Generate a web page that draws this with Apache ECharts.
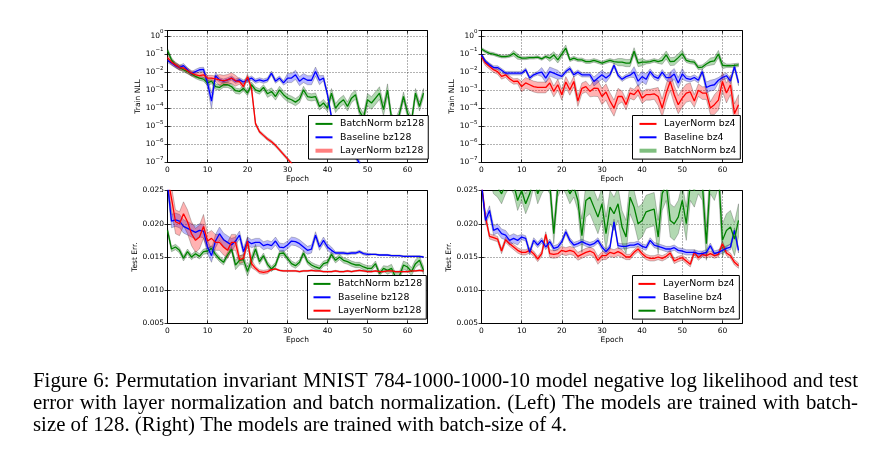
<!DOCTYPE html>
<html><head><meta charset="utf-8">
<script src="https://cdn.jsdelivr.net/npm/echarts@6/dist/echarts.min.js"></script>
<style>html,body{margin:0;padding:0;background:#fff}#c{width:891px;height:458px}</style>
</head><body><div id="c"></div>
<script>
// ---------- data ----------
const epochs = [0,1,2,3,4,5,6,7,8,9,10,11,12,13,14,15,16,17,18,19,20,21,22,23,24,25,26,27,28,29,30,31,32,33,34,35,36,37,38,39,40,41,42,43,44,45,46,47,48,49,50,51,52,53,54,55,56,57,58,59,60,61,62,63,64];
const xTicks = [0,10,20,30,40,50,60];

// Train NLL, batch size 128 (log10 of NLL)
const trainBN128 = [-0.80,-1.32,-1.60,-1.75,-1.87,-1.97,-2.10,-2.24,-2.33,-2.39,-2.60,-2.50,-2.80,-2.85,-2.70,-2.70,-2.80,-3.03,-3.07,-2.90,-3.16,-2.70,-2.98,-3.07,-2.85,-3.20,-3.07,-3.35,-2.98,-3.25,-3.44,-3.53,-3.66,-3.50,-2.98,-3.35,-3.40,-3.35,-3.90,-3.71,-3.99,-3.16,-3.99,-3.71,-3.53,-3.90,-3.44,-3.25,-4.17,-4.54,-3.53,-3.71,-3.44,-3.16,-4.08,-3.00,-4.54,-4.82,-4.30,-3.35,-4.26,-4.72,-3.16,-3.90,-3.16];
const trainBN128Sd = [0.12,0.12,0.12,0.12,0.12,0.12,0.12,0.12,0.12,0.12,0.15,0.15,0.15,0.15,0.15,0.15,0.15,0.15,0.15,0.15,0.15,0.15,0.15,0.15,0.15,0.2,0.2,0.2,0.2,0.2,0.2,0.2,0.2,0.2,0.2,0.2,0.2,0.2,0.2,0.2,0.2,0.25,0.25,0.25,0.25,0.25,0.25,0.25,0.25,0.25,0.35,0.35,0.35,0.35,0.35,0.35,0.25,0.25,0.25,0.25,0.25,0.25,0.25,0.25,0.25];
const trainBase128 = [-1.35,-1.50,-1.64,-1.75,-1.64,-1.87,-2.10,-1.97,-1.87,-1.85,-2.60,-3.60,-2.20,-2.43,-2.50,-2.43,-2.33,-2.50,-2.43,-2.55,-2.43,-2.33,-2.50,-2.43,-2.50,-2.43,-2.06,-2.50,-2.33,-2.60,-2.33,-2.33,-2.15,-2.50,-2.33,-2.45,-2.45,-1.97,-2.45,-2.33,-3.25,-4.50,-5.00,-5.40,-5.75,-6.05,-6.30,-6.65,-7.05,-7.40,null,null,null,null,null,null,null,null,null,null,null,null,null,null,null];
const trainBase128Sd = [0.12,0.12,0.12,0.12,0.12,0.12,0.12,0.12,0.12,0.12,0.3,0.45,0.2,0.12,0.12,0.12,0.12,0.12,0.12,0.12,0.12,0.12,0.12,0.12,0.12,0.12,0.12,0.12,0.12,0.12,0.25,0.25,0.25,0.25,0.25,0.25,0.25,0.25,0.25,0.15,0.15,0.15,0.15,0.15,0.15,0.15,0.15,0.15,0.15,0.15,0.15,0.15,0.15,0.15,0.15,0.15,0.15,0.15,0.15,0.15,0.15,0.15,0.15,0.15,0.15];
const trainLN128 = [-1.20,-1.45,-1.60,-1.75,-1.78,-1.93,-2.06,-2.15,-2.19,-2.15,-2.33,-2.33,-2.37,-2.43,-2.48,-2.43,-2.33,-2.48,-2.52,-2.80,-2.25,-2.90,-4.85,-5.30,-5.50,-5.70,-5.85,-6.05,-6.30,-6.55,-6.80,-7.05,-7.30,null,null,null,null,null,null,null,null,null,null,null,null,null,null,null,null,null,null,null,null,null,null,null,null,null,null,null,null,null,null,null,null];
const trainLN128Sd = [0.15,0.15,0.15,0.15,0.15,0.15,0.15,0.15,0.15,0.15,0.15,0.15,0.15,0.3,0.3,0.3,0.3,0.3,0.15,0.15,0.15,0.15,0.08,0.08,0.08,0.08,0.08,0.08,0.08,0.08,0.08,0.08,0.08,0.08,0.08,0.08,0.08,0.08,0.08,0.08,0.08,0.08,0.08,0.08,0.08,0.08,0.08,0.08,0.08,0.08,0.08,0.08,0.08,0.08,0.08,0.08,0.08,0.08,0.08,0.08,0.08,0.08,0.08,0.08,0.08];

// Train NLL, batch size 4 (log10 of NLL)
const trainLN4 = [-1.14,-1.50,-1.69,-1.87,-1.97,-2.24,-2.15,-2.37,-2.52,-2.50,-2.80,-2.60,-2.70,-2.80,-2.85,-2.85,-2.85,-2.60,-3.07,-2.70,-3.25,-2.55,-2.98,-2.52,-3.60,-2.90,-2.80,-3.07,-2.89,-2.90,-3.35,-3.10,-3.60,-3.99,-3.35,-3.35,-3.80,-3.16,-3.25,-2.98,-3.44,-3.25,-3.25,-3.20,-3.35,-3.99,-3.16,-2.52,-3.25,-3.80,-3.44,-3.16,-3.10,-3.60,-3.00,-3.16,-3.16,-3.99,-3.80,-3.55,-2.52,-3.16,-2.70,-4.30,-3.80];
const trainLN4Sd = [0.15,0.15,0.15,0.15,0.15,0.15,0.15,0.15,0.15,0.15,0.3,0.3,0.3,0.3,0.3,0.3,0.3,0.3,0.3,0.3,0.3,0.3,0.3,0.3,0.3,0.3,0.3,0.3,0.45,0.45,0.45,0.45,0.45,0.45,0.45,0.3,0.3,0.3,0.3,0.3,0.3,0.3,0.3,0.3,0.5,0.5,0.5,0.5,0.5,0.5,0.5,0.5,0.5,0.35,0.35,0.35,0.35,0.35,0.55,0.55,0.55,0.55,0.55,0.55,0.55];
const trainBase4 = [-1.05,-1.42,-1.60,-1.75,-1.75,-1.90,-2.06,-2.06,-2.06,-2.06,-2.06,-1.87,-2.33,-2.15,-2.06,-2.00,-2.33,-1.97,-2.06,-2.15,-2.24,-1.97,-1.80,-2.15,-2.00,-2.15,-2.15,-2.15,-2.52,-2.33,-2.15,-2.33,-2.15,-1.62,-2.17,-2.40,-2.25,-2.17,-2.00,-2.50,-2.25,-2.40,-1.97,-2.25,-2.35,-2.00,-2.30,-2.30,-2.10,-2.60,-2.10,-2.35,-2.40,-2.30,-2.45,-1.97,-2.85,-2.75,-2.70,-2.45,-2.30,-2.20,-2.50,-1.70,-2.60];
const trainBase4Sd = [0.1,0.1,0.1,0.1,0.1,0.1,0.1,0.1,0.1,0.1,0.1,0.1,0.1,0.1,0.1,0.25,0.25,0.25,0.25,0.25,0.12,0.12,0.12,0.12,0.12,0.12,0.12,0.12,0.25,0.25,0.25,0.25,0.12,0.12,0.12,0.12,0.12,0.12,0.3,0.3,0.3,0.3,0.15,0.15,0.15,0.15,0.15,0.3,0.3,0.3,0.3,0.15,0.15,0.15,0.15,0.15,0.3,0.3,0.3,0.15,0.15,0.15,0.15,0.15,0.15];
const trainBN4 = [-0.72,-0.86,-0.96,-1.00,-1.08,-1.14,-1.14,-1.10,-0.96,-1.14,-1.23,-1.23,-1.20,-1.20,-1.17,-1.27,-1.14,-1.23,-1.05,-1.32,-1.00,-0.68,-1.32,-1.23,-1.32,-1.32,-1.42,-1.42,-1.35,-1.42,-1.50,-1.42,-1.35,-1.42,-1.45,-1.45,-1.50,-1.50,-0.85,-1.50,-1.45,-1.45,-1.42,-1.35,-1.42,-1.35,-1.05,-1.42,-1.40,-1.20,-0.98,-1.35,-1.42,-1.45,-1.75,-1.72,-1.55,-1.42,-1.38,-1.00,-1.62,-1.65,-1.65,-1.63,-1.60];
const trainBN4Sd = [0.08,0.08,0.08,0.08,0.08,0.08,0.08,0.08,0.15,0.15,0.08,0.08,0.08,0.08,0.08,0.08,0.08,0.18,0.18,0.18,0.18,0.18,0.1,0.1,0.1,0.1,0.1,0.1,0.1,0.1,0.1,0.1,0.1,0.1,0.2,0.2,0.2,0.2,0.2,0.2,0.2,0.1,0.1,0.1,0.1,0.22,0.22,0.22,0.22,0.22,0.22,0.12,0.12,0.12,0.12,0.12,0.12,0.2,0.2,0.2,0.2,0.1,0.1,0.1,0.1];

// Test error, batch size 128
const testBN128 = [0.0190,0.0162,0.0165,0.0160,0.0148,0.0158,0.0150,0.0155,0.0151,0.0158,0.0159,0.0163,0.0154,0.0147,0.0142,0.0153,0.0162,0.0138,0.0145,0.0146,0.0128,0.0145,0.0162,0.0143,0.0152,0.0139,0.0132,0.0138,0.0155,0.0156,0.0148,0.0140,0.0137,0.0142,0.0156,0.0143,0.0138,0.0135,0.0133,0.0140,0.0142,0.0154,0.0145,0.0150,0.0145,0.0143,0.0140,0.0138,0.0138,0.0135,0.0133,0.0133,0.0140,0.0125,0.0133,0.0130,0.0133,0.0120,0.0122,0.0138,0.0135,0.0128,0.0140,0.0145,0.0130];
const testBN128Sd = [0.0004,0.0004,0.0004,0.0004,0.0004,0.0004,0.0004,0.0004,0.0004,0.0004,0.0004,0.0004,0.0004,0.0004,0.0004,0.0004,0.0004,0.0007,0.0007,0.0007,0.0007,0.0007,0.0007,0.0004,0.0004,0.0004,0.0004,0.0004,0.0004,0.0004,0.0004,0.0004,0.0004,0.0004,0.0004,0.0004,0.0004,0.0004,0.0004,0.0004,0.0004,0.0004,0.0004,0.0004,0.0004,0.0004,0.0004,0.0004,0.0004,0.0004,0.0004,0.0004,0.0004,0.0004,0.0004,0.0006,0.0006,0.0006,0.0006,0.0006,0.0006,0.0006,0.0006,0.0006,0.0006];
const testBase128 = [0.0260,0.0204,0.0206,0.0204,0.0196,0.0193,0.0190,0.0187,0.0190,0.0189,0.0165,0.0152,0.0174,0.0185,0.0176,0.0172,0.0168,0.0174,0.0183,0.0158,0.0174,0.0170,0.0172,0.0172,0.0167,0.0169,0.0167,0.0174,0.0165,0.0164,0.0168,0.0174,0.0173,0.0170,0.0165,0.0160,0.0162,0.0183,0.0165,0.0175,0.0165,0.0160,0.0156,0.0156,0.0156,0.0155,0.0156,0.0156,0.0158,0.0155,0.0154,0.0154,0.0154,0.0153,0.0153,0.0153,0.0152,0.0152,0.0152,0.0151,0.0151,0.0151,0.0151,0.0151,0.0150];
const testBase128Sd = [0.0010,0.0010,0.0010,0.0010,0.0010,0.0010,0.0010,0.0010,0.0010,0.0010,0.0010,0.0010,0.0010,0.0010,0.0010,0.0010,0.0010,0.0006,0.0006,0.0006,0.0006,0.0006,0.0006,0.0006,0.0006,0.0006,0.0006,0.0006,0.0006,0.0006,0.0006,0.0006,0.0006,0.0006,0.0006,0.0006,0.0006,0.0005,0.0005,0.0005,0.0005,0.0005,0.0002,0.0002,0.0002,0.0002,0.0002,0.0002,0.0002,0.0002,0.0002,0.0001,0.0001,0.0001,0.0001,0.0001,0.0001,0.0001,0.0001,0.0001,0.0001,0.0001,0.0001,0.0001,0.0001];
const testLN128 = [0.0270,0.0238,0.0203,0.0200,0.0215,0.0203,0.0185,0.0175,0.0180,0.0196,0.0174,0.0178,0.0172,0.0172,0.0165,0.0160,0.0172,0.0172,0.0146,0.0148,0.0174,0.0140,0.0133,0.0128,0.0127,0.0128,0.0131,0.0132,0.0130,0.0129,0.0129,0.0129,0.0129,0.0128,0.0129,0.0129,0.0130,0.0129,0.0129,0.0128,0.0128,0.0128,0.0129,0.0128,0.0128,0.0129,0.0128,0.0129,0.0130,0.0129,0.0128,0.0128,0.0129,0.0128,0.0128,0.0129,0.0129,0.0128,0.0128,0.0128,0.0128,0.0129,0.0129,0.0130,0.0129];
const testLN128Sd = [0.0018,0.0018,0.0018,0.0018,0.0018,0.0018,0.0018,0.0018,0.0018,0.0018,0.0012,0.0012,0.0012,0.0012,0.0012,0.0012,0.0012,0.0012,0.0006,0.0006,0.0006,0.0006,0.0003,0.0003,0.0003,0.0003,0.0001,0.0001,0.0001,0.0001,0.0001,0.0001,0.0001,0.0001,0.0001,0.0001,0.0001,0.0001,0.0001,0.0001,0.0001,0.0001,0.0001,0.0001,0.0001,0.0001,0.0001,0.0001,0.0001,0.0001,0.0001,0.0001,0.0001,0.0001,0.0001,0.0001,0.0001,0.0001,0.0001,0.0001,0.0001,0.0001,0.0001,0.0001,0.0001];

// Test error, batch size 4
const testLN4 = [0.0260,0.0210,0.0181,0.0179,0.0177,0.0159,0.0176,0.0170,0.0165,0.0160,0.0157,0.0157,0.0160,0.0155,0.0147,0.0155,0.0184,0.0155,0.0154,0.0155,0.0160,0.0158,0.0160,0.0158,0.0151,0.0154,0.0157,0.0159,0.0156,0.0145,0.0152,0.0152,0.0157,0.0155,0.0158,0.0155,0.0150,0.0150,0.0157,0.0162,0.0155,0.0150,0.0148,0.0148,0.0150,0.0148,0.0151,0.0156,0.0144,0.0147,0.0149,0.0144,0.0139,0.0157,0.0149,0.0154,0.0152,0.0155,0.0152,0.0154,0.0170,0.0156,0.0152,0.0142,0.0137];
const testLN4Sd = [0.0004,0.0004,0.0004,0.0004,0.0004,0.0004,0.0004,0.0004,0.0004,0.0004,0.0004,0.0004,0.0004,0.0004,0.0004,0.0004,0.0004,0.0006,0.0006,0.0006,0.0006,0.0006,0.0006,0.0006,0.0006,0.0006,0.0006,0.0006,0.0006,0.0006,0.0006,0.0006,0.0006,0.0006,0.0006,0.0006,0.0004,0.0004,0.0004,0.0004,0.0004,0.0004,0.0004,0.0004,0.0004,0.0004,0.0004,0.0004,0.0004,0.0004,0.0004,0.0004,0.0004,0.0004,0.0004,0.0004,0.0004,0.0004,0.0004,0.0004,0.0004,0.0004,0.0004,0.0004,0.0004];
const testBase4 = [0.0260,0.0205,0.0220,0.0190,0.0193,0.0185,0.0183,0.0175,0.0178,0.0175,0.0180,0.0178,0.0157,0.0175,0.0168,0.0175,0.0165,0.0173,0.0163,0.0165,0.0173,0.0188,0.0175,0.0168,0.0170,0.0173,0.0170,0.0168,0.0170,0.0175,0.0165,0.0158,0.0165,0.0203,0.0167,0.0166,0.0166,0.0168,0.0168,0.0170,0.0166,0.0164,0.0175,0.0168,0.0166,0.0164,0.0162,0.0162,0.0164,0.0160,0.0159,0.0157,0.0157,0.0157,0.0155,0.0155,0.0157,0.0167,0.0155,0.0157,0.0160,0.0163,0.0165,0.0190,0.0160];
const testBase4Sd = [0.0007,0.0007,0.0007,0.0007,0.0007,0.0007,0.0007,0.0007,0.0007,0.0007,0.0004,0.0004,0.0004,0.0004,0.0004,0.0004,0.0004,0.0004,0.0004,0.0004,0.0004,0.0004,0.0004,0.0004,0.0004,0.0004,0.0004,0.0004,0.0004,0.0004,0.0004,0.0004,0.0004,0.0004,0.0004,0.0004,0.0004,0.0004,0.0004,0.0004,0.0004,0.0004,0.0004,0.0004,0.0004,0.0004,0.0004,0.0004,0.0004,0.0004,0.0004,0.0004,0.0004,0.0004,0.0004,0.0004,0.0004,0.0004,0.0004,0.0004,0.0004,0.0004,0.0004,0.0004,0.0004];
const testBN4 = [0.0350,0.0300,0.0280,0.0260,0.0255,0.0245,0.0260,0.0270,0.0260,0.0235,0.0250,0.0230,0.0245,0.0270,0.0245,0.0260,0.0270,0.0260,0.0185,0.0255,0.0270,0.0260,0.0245,0.0255,0.0235,0.0182,0.0235,0.0240,0.0225,0.0210,0.0230,0.0185,0.0225,0.0215,0.0230,0.0195,0.0180,0.0240,0.0225,0.0200,0.0205,0.0218,0.0220,0.0222,0.0180,0.0245,0.0260,0.0205,0.0200,0.0210,0.0235,0.0200,0.0260,0.0250,0.0270,0.0260,0.0170,0.0270,0.0260,0.0280,0.0175,0.0190,0.0195,0.0177,0.0205];
const testBN4Sd = [0.0015,0.0015,0.0015,0.0015,0.0015,0.0015,0.0015,0.0015,0.0015,0.0015,0.0015,0.0015,0.0015,0.0015,0.0015,0.0015,0.0015,0.0015,0.0015,0.0015,0.0015,0.0015,0.0015,0.0015,0.0015,0.0025,0.0025,0.0025,0.0025,0.0025,0.0025,0.0025,0.0025,0.0025,0.0025,0.0025,0.0025,0.0025,0.0025,0.0025,0.0025,0.0025,0.0025,0.0025,0.0025,0.0025,0.0025,0.0025,0.0025,0.0025,0.0025,0.0025,0.0025,0.0025,0.0025,0.0025,0.0025,0.0025,0.0025,0.0025,0.0025,0.0025,0.0025,0.0025,0.0025];

const logTicks = [1e-7,1e-6,1e-5,1e-4,1e-3,1e-2,1e-1,1];
const errTicks = [0.005,0.010,0.015,0.020,0.025];

const captionLines = [
  "Figure 6: Permutation invariant MNIST 784-1000-1000-10 model negative log likelihood and test",
  "error with layer normalization and batch normalization. (Left) The models are trained with batch-",
  "size of 128. (Right) The models are trained with batch-size of 4."
];

// ---------- styling ----------
const G = '#008000', B = '#0000ff', R = '#ff0000';
const FILL = {[G]:'rgba(0,128,0,0.3)', [B]:'rgba(0,0,255,0.28)', [R]:'rgba(255,0,0,0.3)'};
const FF = 'DejaVu Sans';

const panels = [
  {log:true, yName:'Train NLL', yGap:21, grid:{left:167.5, top:30.5, width:260, height:132},
   items:[['BatchNorm bz128',G,trainBN128,trainBN128Sd],['Baseline bz128',B,trainBase128,trainBase128Sd],['LayerNorm bz128',R,trainLN128,trainLN128Sd]],
   legend:{left:308.5, top:115.5}, thick:'LayerNorm bz128'},
  {log:true, yName:'Train NLL', yGap:21.5, grid:{left:481.5, top:30.5, width:261, height:132},
   items:[['LayerNorm bz4',R,trainLN4,trainLN4Sd],['Baseline bz4',B,trainBase4,trainBase4Sd],['BatchNorm bz4',G,trainBN4,trainBN4Sd]],
   legend:{left:632.5, top:115.5}, thick:'BatchNorm bz4'},
  {log:false, yName:'Test Err.', yGap:26, grid:{left:167.5, top:190.5, width:260, height:133},
   items:[['BatchNorm bz128',G,testBN128,testBN128Sd],['Baseline bz128',B,testBase128,testBase128Sd],['LayerNorm bz128',R,testLN128,testLN128Sd]],
   legend:{left:307.5, top:275.5}, thick:null},
  {log:false, yName:'Test Err.', yGap:26.5, grid:{left:481.5, top:190.5, width:261, height:133},
   items:[['LayerNorm bz4',R,testLN4,testLN4Sd],['Baseline bz4',B,testBase4,testBase4Sd],['BatchNorm bz4',G,testBN4,testBN4Sd]],
   legend:{left:632.5, top:275.5}, thick:null}
];

const grids = [], xAxes = [], yAxes = [], series = [], legends = [];
const tickStyle = {show:true, inside:true, length:3, lineStyle:{color:'#000', width:0.8}};
const splitStyle = {show:true, lineStyle:{color:'#000', width:0.6, type:[1,2]}};
const axisFont = {fontFamily:FF, fontSize:7.5, color:'#000'};

function logLabel(v){
  const l = Math.log10(v), e = Math.round(l);
  if (Math.abs(l - e) > 1e-6) return '';
  return '{b|10}{s|' + (e < 0 ? '\u2212' : '') + Math.abs(e) + '}';
}

function bandSeries(gi, rows, fill){
  return {
    type:'custom', name:'band'+gi+'_'+series.length, xAxisIndex:gi, yAxisIndex:gi, clip:true, silent:true, z:2,
    animation:false, data:rows, encode:{x:0, y:[1,2]},
    renderItem:(params, api) => {
      if (params.dataIndex !== 0) return null;
      const up = [], dn = [];
      rows.forEach(r => { up.push(api.coord([r[0], r[2]])); dn.push(api.coord([r[0], r[1]])); });
      return {type:'polygon', shape:{points: up.concat(dn.reverse())},
        style:{fill:fill, stroke:'rgba(0,0,0,0.22)', lineWidth:1}};
    }
  };
}

panels.forEach((p, gi) => {
  grids.push(Object.assign({show:true, borderColor:'#000', borderWidth:1, backgroundColor:'transparent'}, p.grid));
  xAxes.push({type:'value', gridIndex:gi, min:0, max:65, interval:10, name:'Epoch', nameLocation:'middle', nameGap:12.5,
    nameTextStyle:axisFont, axisLine:{show:false}, axisTick:tickStyle, splitLine:splitStyle,
    axisLabel:Object.assign({margin:4, formatter:v => xTicks.includes(v) ? String(v) : ''}, axisFont)});
  const yBase = p.log
    ? {type:'log', logBase:10, min:logTicks[0], max:2, splitNumber:7}
    : {type:'value', min:errTicks[0], max:errTicks[errTicks.length-1], interval:0.005};
  yAxes.push(Object.assign({gridIndex:gi, name:p.yName, nameLocation:'middle', nameGap:p.yGap, nameTextStyle:axisFont,
    axisLine:{show:false}, axisTick:tickStyle, splitLine:splitStyle,
    axisLabel: p.log
      ? {margin:4, formatter:logLabel, rich:{b:{fontFamily:FF, fontSize:7.5, color:'#000', lineHeight:14, verticalAlign:'middle'},
                                                 s:{fontFamily:FF, fontSize:5.5, color:'#000', lineHeight:14, verticalAlign:'top'}}}
      : Object.assign({margin:3.5, formatter:v => v.toFixed(3)}, axisFont)}, yBase));

  p.items.forEach(([name, color, mean, sd], k) => {
    const pts = [], band = [];
    epochs.forEach((e, i) => {
      const m = mean[i];
      if (m === null) { pts.push([e, null]); return; }
      if (p.log) { pts.push([e, Math.pow(10, m)]); band.push([e, Math.pow(10, m - sd[i]), Math.pow(10, m + sd[i])]); }
      else { pts.push([e, m]); band.push([e, m - sd[i], m + sd[i]]); }
    });
    series.push(bandSeries(gi, band, FILL[color]));
    series.push({type:'line', name:name, xAxisIndex:gi, yAxisIndex:gi, data:pts, symbol:'none', showSymbol:false,
      lineStyle:{color:color, width:1.3}, itemStyle:{color:color}, z:3+k, clip:true, animation:false, connectNulls:false});
  });

  legends.push({
    orient:'vertical', left:p.legend.left, top:p.legend.top, selectedMode:false,
    data:p.items.map(([name, color]) => name === p.thick
      ? {name:name, lineStyle:{width:4, color:FILL[color].replace('0.3)', '0.5)')}, itemStyle:{opacity:0}}
      : {name:name, itemStyle:{opacity:0}}),
    itemStyle:{opacity:0, borderWidth:0},
    itemWidth:17, itemHeight:10, itemGap:3.4, padding:[3.4, 4, 3.4, 5],
    backgroundColor:'#fff', borderColor:'#000', borderWidth:1, borderRadius:0, z:10,
    textStyle:{fontFamily:FF, fontSize:9.4, color:'#000', lineHeight:10, padding:[0,0,0,2.5]}
  });
});

// secondary axes (top / right ticks, matplotlib style)
panels.forEach((p, gi) => {
  xAxes.push({type:'value', gridIndex:gi, position:'top', min:0, max:65, interval:10,
    axisLine:{show:false}, axisTick:tickStyle, axisLabel:{show:false}, splitLine:{show:false}});
  yAxes.push(Object.assign({gridIndex:gi, position:'right', axisLine:{show:false}, axisTick:tickStyle,
    axisLabel:{show:false}, splitLine:{show:false}},
    p.log ? {type:'log', logBase:10, min:logTicks[0], max:2, splitNumber:7}
          : {type:'value', min:errTicks[0], max:errTicks[errTicks.length-1], interval:0.005}));
});

// caption (justified like the LaTeX source)
const CAP_FONT = 20.5, CAP_FAMILY = 'Liberation Serif', CAP_LEFT = 33, CAP_RIGHT = 858, CAP_LAST_RIGHT = 567;
const capY = [382, 404, 426];
const ctx = document.createElement('canvas').getContext('2d');
ctx.font = CAP_FONT + 'px "' + CAP_FAMILY + '"';
const capScale = (CAP_LAST_RIGHT - CAP_LEFT) / ctx.measureText(captionLines[captionLines.length - 1]).width;
const graphics = [];
function capText(x, y, t){
  return {type:'text', x:x, y:y, scaleX:capScale, silent:true,
    style:{text:t, fontFamily:CAP_FAMILY, fontSize:CAP_FONT, fill:'#000', verticalAlign:'middle'}};
}
captionLines.forEach((line, li) => {
  if (li === captionLines.length - 1) { graphics.push(capText(CAP_LEFT, capY[li], line)); return; }
  const words = line.split(' ');
  const widths = words.map(w => ctx.measureText(w).width * capScale);
  const total = widths.reduce((a, b) => a + b, 0);
  const gap = (CAP_RIGHT - CAP_LEFT - total) / (words.length - 1);
  let x = CAP_LEFT;
  words.forEach((w, wi) => { graphics.push(capText(x, capY[li], w)); x += widths[wi] + gap; });
});

const chart = echarts.init(document.getElementById('c'), null, {renderer:'canvas'});
chart.setOption({
  animation:false, backgroundColor:'#fff',
  grid:grids, xAxis:xAxes, yAxis:yAxes, series:series, legend:legends, graphic:graphics
});
</script></body></html>
